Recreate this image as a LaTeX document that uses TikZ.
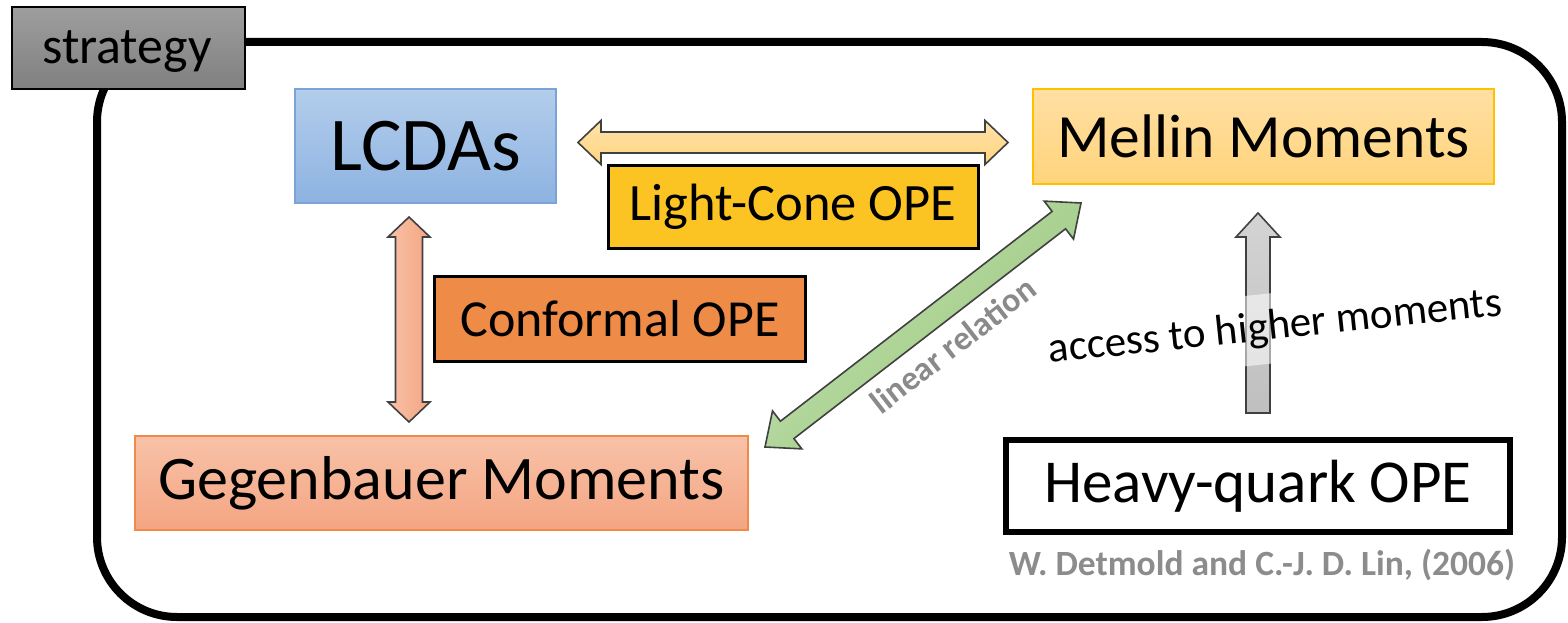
\documentclass[tikz,border=0pt]{standalone}
\usepackage{fontspec}
\setmainfont{Carlito}
\usetikzlibrary{calc}
\definecolor{lcdaTop}{HTML}{B3CDEB}
\definecolor{lcdaBot}{HTML}{8DB3E2}
\definecolor{lcdaLine}{HTML}{7BA3D6}
\definecolor{melTop}{HTML}{FFDFA3}
\definecolor{melBot}{HTML}{FFD47C}
\definecolor{melLine}{HTML}{FFC000}
\definecolor{gegTop}{HTML}{F8C2A8}
\definecolor{gegBot}{HTML}{F4A582}
\definecolor{gegLine}{HTML}{F08A4B}
\definecolor{lcFill}{HTML}{FBC423}
\definecolor{cfFill}{HTML}{ED8B47}
\definecolor{citeGray}{HTML}{8C8C8C}
\definecolor{linGray}{HTML}{8A8A8A}
\definecolor{grnA}{HTML}{C3E1B0}
\definecolor{grnB}{HTML}{98C67C}
\newcommand{\dblblock}[6][]{%
  \coordinate (dbA) at ($(#2)!#6!(#3)$);
  \coordinate (dbB) at ($(#3)!#6!(#2)$);
  \path[#1] (#2) -- ($(dbA)!#5!90:(#3)$) -- ($(dbA)!#4!90:(#3)$)
    -- ($(dbB)!#4!-90:(#2)$) -- ($(dbB)!#5!-90:(#2)$) -- (#3)
    -- ($(dbB)!#5!90:(#2)$) -- ($(dbB)!#4!90:(#2)$)
    -- ($(dbA)!#4!-90:(#3)$) -- ($(dbA)!#5!-90:(#3)$) -- cycle;}
\newcommand{\oneblock}[6][]{%
  \coordinate (dbB) at ($(#3)!#6!(#2)$);
  \path[#1] ($(#2)!#4!90:(#3)$) -- ($(dbB)!#4!-90:(#2)$) -- ($(dbB)!#5!-90:(#2)$) -- (#3)
    -- ($(dbB)!#5!90:(#2)$) -- ($(dbB)!#4!90:(#2)$) -- ($(#2)!#4!-90:(#3)$) -- cycle;}
\tikzset{
  box/.style={rectangle, inner sep=0pt, align=center, text=black},
  arrowline/.style={draw=black!75, line width=1.6pt, line join=miter},
}
\begin{document}
\begin{tikzpicture}[x=1pt,y=-1pt]
\useasboundingbox (0,0) rectangle (1568,623);
% frame
\draw[line width=8pt, rounded corners=80pt] (97,42) rectangle (1562,617);
% tab
\node[box, top color=black!38, bottom color=black!50, draw=black, line width=2pt,
  minimum width=233, minimum height=82] (tab) at (128.5,48) {};
\node[box, font=\fontsize{52}{56}\selectfont] (tabtext) at (127,52) {strategy};
% main nodes
\node[box, top color=lcdaTop, bottom color=lcdaBot, draw=lcdaLine, line width=2pt,
  minimum width=261, minimum height=114, font=\fontsize{76}{80}\selectfont] (lcda) at (425.5,146) {LCDAs};
\node[box, top color=melTop, bottom color=melBot, draw=melLine, line width=2pt,
  minimum width=461, minimum height=95, font=\fontsize{61.5}{66}\selectfont] (mel) at (1263.5,136.5) {Mellin Moments};
\node[box, fill=lcFill, draw=black, line width=3pt,
  minimum width=370, minimum height=83, font=\fontsize{52.5}{56}\selectfont] (lc) at (793,206.5) {Light-Cone OPE};
\node[box, fill=cfFill, draw=black, line width=3pt,
  minimum width=371, minimum height=85, font=\fontsize{52}{56}\selectfont] (cf) at (620,319) {Conformal OPE};
\node[box, top color=gegTop, bottom color=gegBot, draw=gegLine, line width=2pt,
  minimum width=613, minimum height=94, font=\fontsize{62}{66}\selectfont] (geg) at (441.5,483) {Gegenbauer Moments};
\node[box, fill=white, draw=black, line width=6pt,
  minimum width=504, minimum height=92, font=\fontsize{61}{64}\selectfont] (hq) at (1258,486) {Heavy-quark OPE};
\node[box, text=citeGray, font=\bfseries\fontsize{35.5}{38}\selectfont] (cite) at (1262,565) {W. Detmold and C.-J. D. Lin, (2006)};
% connector ends
\coordinate (hL) at (578,142.5);
\coordinate (hR) at (1008,142.5);
\coordinate (vT) at (409,217);
\coordinate (vB) at (409,422);
\coordinate (gL) at (765,447);
\coordinate (gR) at (1081,203);
\coordinate (uB) at (1258,413);
\coordinate (uT) at (1258,213);
% arrows
\dblblock[arrowline, top color=melTop!90!white, bottom color=melBot]{hL}{hR}{10.5pt}{22pt}{23pt}
\dblblock[arrowline, left color=gegTop, right color=gegBot]{vT}{vB}{13.5pt}{21pt}{20pt}
\dblblock[arrowline, left color=grnA, right color=grnB, shading angle=45]{gL}{gR}{11pt}{24pt}{28pt}
\oneblock[arrowline, top color=black!17, bottom color=black!25]{uB}{uT}{12pt}{22pt}{24pt}
% labels
\node[box, text=linGray, rotate=37.8, font=\bfseries\fontsize{34}{36}\selectfont] (lin) at (953,345) {linear relation};
\node[box, rotate=6, fill=white, fill opacity=0.55, text opacity=1, minimum height=70,
  font=\fontsize{43}{46}\selectfont] (acc) at (1275,328) {access to higher moments};
\end{tikzpicture}
\end{document}
